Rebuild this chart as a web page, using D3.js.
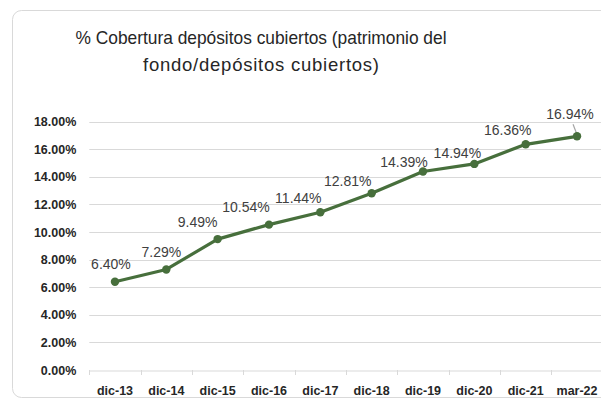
<!DOCTYPE html>
<html>
<head>
<meta charset="utf-8">
<script src="https://cdn.jsdelivr.net/npm/d3@7"></script>
<style>
  body { margin: 0; background: #fff; }
  svg { display: block; }
</style>
</head>
<body>
<div id="chart"></div>
<script>
const WIDTH = 601;
const HEIGHT = 401;

const categories = ["dic-13", "dic-14", "dic-15", "dic-16", "dic-17", "dic-18", "dic-19", "dic-20", "dic-21", "mar-22"];
const coverage = [0.0640, 0.0729, 0.0949, 0.1054, 0.1144, 0.1281, 0.1439, 0.1494, 0.1636, 0.1694];
const yTicks = [0, 0.02, 0.04, 0.06, 0.08, 0.10, 0.12, 0.14, 0.16, 0.18];
const titleLines = ["% Cobertura depósitos cubiertos (patrimonio del", "fondo/depósitos cubiertos)"];

// labels were dragged around by hand in the original, nudge them the same way
const labelNudge = [[-4, -18], [-5, -17], [-20, -17], [-23, -18], [-22, -14], [-24, -12], [-19, -9], [-17, -11], [-18, -14], [-7, -22]];

const svg = d3.select("#chart").append("svg")
  .attr("width", WIDTH)
  .attr("height", HEIGHT);

svg.append("rect")
  .attr("width", "100%")
  .attr("height", "100%")
  .attr("fill", "#fff");

// chart area frame
svg.append("rect")
  .attr("x", 12.5)
  .attr("y", 10.5)
  .attr("width", 640)
  .attr("height", 387)
  .attr("rx", 9)
  .attr("fill", "none")
  .attr("stroke", "#d9d9d9");

// title - fit to the widths of the original (narrow font, wide spaces)
const title = svg.append("g").attr("fill", "#262626")
  .style("font-family", "'Liberation Sans', Arial, sans-serif")
  .style("font-size", "18.5px");
title.selectAll("text")
  .data(titleLines)
  .enter()
  .append("text")
  .attr("x", 261)
  .attr("y", (d, i) => 44 + i * 26.5)
  .attr("text-anchor", "middle")
  .attr("textLength", (d, i) => i === 0 ? 371 : 236)
  .attr("lengthAdjust", (d, i) => i === 0 ? "spacingAndGlyphs" : "spacing")
  .text(d => d);

const xScale = d3.scaleBand()
  .domain(categories)
  .range([89.3, 602.7])
  .padding(0);

const yScale = d3.scaleLinear()
  .domain([0, 0.18])
  .range([370, 121.7]);

const cx = d => xScale(d) + xScale.bandwidth() / 2;

// gridlines
svg.append("g")
  .selectAll("line")
  .data(yTicks.slice(1))
  .enter()
  .append("line")
  .attr("x1", 89.3)
  .attr("x2", 602.7)
  .attr("y1", d => Math.round(yScale(d)) + 0.5)
  .attr("y2", d => Math.round(yScale(d)) + 0.5)
  .attr("stroke", "#d9d9d9")
  .attr("stroke-width", 1);

// y axis labels
const yAxis = svg.append("g")
  .attr("transform", "translate(89.3,0)")
  .call(d3.axisLeft(yScale).tickValues(yTicks).tickFormat(d3.format(".2%")).tickSize(0).tickPadding(13));
yAxis.select(".domain").remove();
yAxis.selectAll("text")
  .attr("fill", "#262626")
  .style("font-family", "'Liberation Sans', Arial, sans-serif")
  .style("font-size", "12.5px")
  .style("font-weight", "bold");

// x axis
const xAxis = svg.append("g")
  .attr("transform", `translate(0,${Math.round(yScale(0)) + 0.5})`)
  .call(d3.axisBottom(xScale).tickSize(0).tickPadding(16));
xAxis.select(".domain").attr("stroke", "#d9d9d9");
xAxis.selectAll("text")
  .attr("fill", "#262626")
  .style("font-family", "'Liberation Sans', Arial, sans-serif")
  .style("font-size", "12.5px")
  .style("font-weight", "bold");

// tick marks between categories
svg.append("g")
  .selectAll("line")
  .data(categories)
  .enter()
  .append("line")
  .attr("x1", d => Math.round(xScale(d)) + 0.5)
  .attr("x2", d => Math.round(xScale(d)) + 0.5)
  .attr("y1", Math.round(yScale(0)))
  .attr("y2", Math.round(yScale(0)) + 5)
  .attr("stroke", "#d9d9d9");

// line + markers
const points = categories.map((c, i) => ({ cat: c, value: coverage[i], nudge: labelNudge[i] }));
const line = d3.line()
  .x(d => cx(d.cat))
  .y(d => yScale(d.value));

svg.append("path")
  .datum(points)
  .attr("d", line)
  .attr("fill", "none")
  .attr("stroke", "#476f3c")
  .attr("stroke-width", 3.2)
  .attr("stroke-linejoin", "round");

// leader line for the last label
const last = points[points.length - 1];
svg.append("line")
  .attr("x1", cx(last.cat) - 4)
  .attr("y1", yScale(last.value) - 12)
  .attr("x2", cx(last.cat) - 0.5)
  .attr("y2", yScale(last.value) - 3)
  .attr("stroke", "#a6a6a6")
  .attr("stroke-width", 1.2);

svg.append("g")
  .selectAll("circle")
  .data(points)
  .enter()
  .append("circle")
  .attr("cx", d => cx(d.cat))
  .attr("cy", d => yScale(d.value))
  .attr("r", 4.2)
  .attr("fill", "#476f3c");

// data labels
svg.append("g")
  .selectAll("text")
  .data(points)
  .enter()
  .append("text")
  .attr("x", d => cx(d.cat) + d.nudge[0])
  .attr("y", d => yScale(d.value) + d.nudge[1])
  .attr("dy", "0.35em")
  .attr("text-anchor", "middle")
  .attr("fill", "#404040")
  .style("font-family", "'Liberation Sans', Arial, sans-serif")
  .style("font-size", "14px")
  .text(d => d3.format(".2%")(d.value));
</script>
</body>
</html>
